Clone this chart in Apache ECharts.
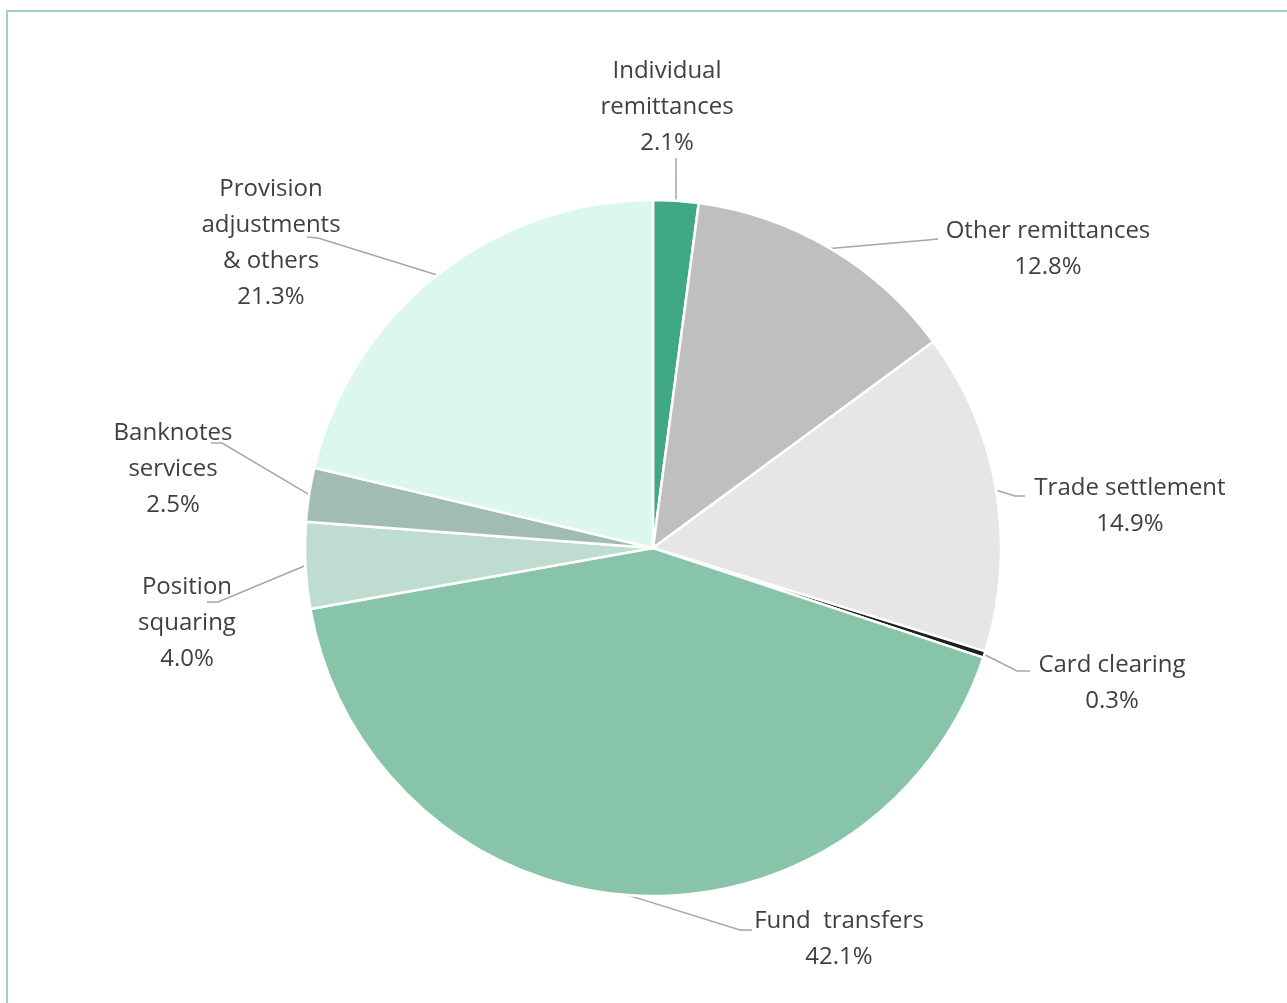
<!DOCTYPE html>
<html>
<head>
<meta charset="utf-8">
<title>Fee income breakdown</title>
<script src="https://cdn.jsdelivr.net/npm/echarts@6/dist/echarts.min.js"></script>
<style>
  html, body { margin: 0; padding: 0; background: #ffffff; }
  #chart { width: 1287px; height: 1003px; }
</style>
</head>
<body>
<div id="chart"></div>
<script>
// Segments, clockwise from 12 o'clock
const categories = [
  'Individual\nremittances',
  'Other remittances',
  'Trade settlement',
  'Card clearing',
  'Fund  transfers',
  'Position\nsquaring',
  'Banknotes\nservices',
  'Provision\nadjustments\n& others'
];
const shares = [2.1, 12.8, 14.9, 0.3, 42.1, 4.0, 2.5, 21.3];
const colors = ['#40a883', '#bfbfbf', '#e6e6e6', '#1f1f1f', '#88c4aa', '#bfdcd0', '#a1bdb1', '#dcf7ed'];

// Pie geometry (px)
const CX = 653, CY = 548, R = 348;

// Label block centres and where each leader line meets its label
const labelSpots = [
  { x: 667,  y: 107, end: [676, 158], elbow: [676, 158] },
  { x: 1048, y: 249, end: [938, 239], elbow: [928, 240] },
  { x: 1130, y: 506, end: [1025, 496], elbow: [1015, 496] },
  { x: 1112, y: 683, end: [1030, 671], elbow: [1017, 671] },
  { x: 839,  y: 939, end: [752, 930], elbow: [740, 930] },
  { x: 187,  y: 623, end: [207, 602], elbow: [218, 602] },
  { x: 173,  y: 469, end: [211, 443], elbow: [222, 443] },
  { x: 271,  y: 243, end: [307, 237], elbow: [318, 238] }
];

// Point on the outer arc at the middle of each segment
const total = shares.reduce((a, b) => a + b, 0);
const anchors = [];
let acc = 0;
shares.forEach(v => {
  const mid = (acc + v / 2) / total * Math.PI * 2;
  anchors.push([CX + R * Math.sin(mid), CY - R * Math.cos(mid)]);
  acc += v;
});

const chart = echarts.init(document.getElementById('chart'), null, { renderer: 'canvas' });

chart.setOption({
  animation: false,
  backgroundColor: '#ffffff',
  textStyle: { fontFamily: '"Open Sans", "Noto Sans", sans-serif' },
  graphic: [{
    type: 'rect',
    shape: { x: 7, y: 11, width: 1300, height: 1020 },
    style: { fill: null, stroke: '#9fd1bf', lineWidth: 2 },
    silent: true
  }],
  series: [{
    type: 'pie',
    center: [CX, CY],
    radius: R,
    startAngle: 90,
    clockwise: true,
    avoidLabelOverlap: false,
    emphasis: { disabled: true },
    itemStyle: { borderColor: '#ffffff', borderWidth: 2.5 },
    label: {
      show: true,
      position: 'outside',
      color: '#404040',
      fontSize: 24,
      lineHeight: 36,
      align: 'center',
      fontFamily: '"Open Sans", "Noto Sans", sans-serif',
      formatter: p => p.name + '\n' + p.value.toFixed(1) + '%'
    },
    labelLine: {
      show: true,
      lineStyle: { color: '#a6a6a6', width: 1.5 }
    },
    labelLayout: params => {
      const i = params.dataIndex;
      const s = labelSpots[i];
      return {
        x: s.x,
        y: s.y,
        align: 'center',
        verticalAlign: 'middle',
        hideOverlap: false,
        labelLinePoints: [anchors[i], s.elbow, s.end]
      };
    },
    data: categories.map((name, i) => ({
      name: name,
      value: shares[i],
      itemStyle: { color: colors[i] }
    }))
  }]
});
</script>
</body>
</html>
